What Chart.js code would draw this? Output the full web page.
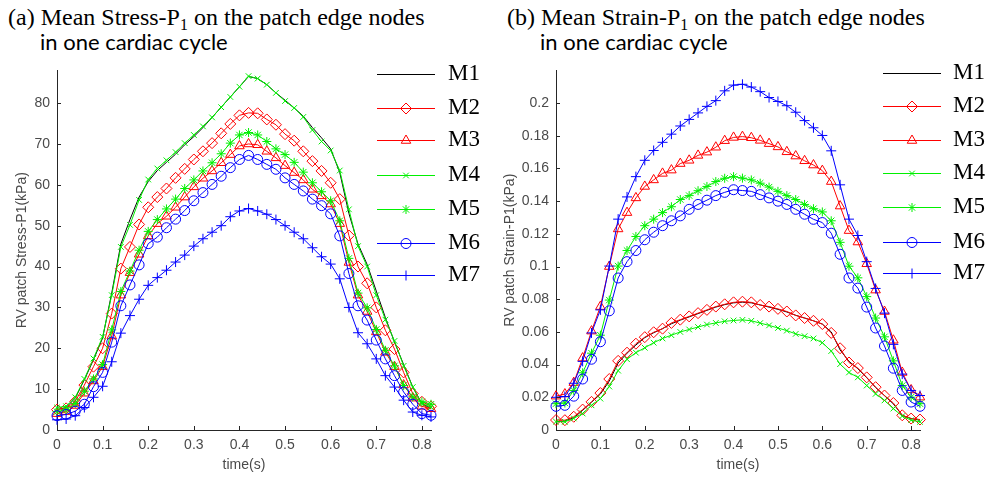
<!DOCTYPE html>
<html><head><meta charset="utf-8">
<script src="https://cdn.jsdelivr.net/npm/chart.js@4.4.1/dist/chart.umd.min.js"></script>
<style>
html,body{margin:0;padding:0;background:#fff;width:989px;height:478px;overflow:hidden;position:relative}
.t1{position:absolute;font-family:"Liberation Serif","Times New Roman",serif;font-size:24px;line-height:26px;color:#000;white-space:nowrap}
.t1 sub{font-size:0.66em;vertical-align:-0.3em;line-height:0}
.t2{position:absolute;font-family:Lato,"Open Sans",sans-serif;font-size:22px;line-height:26px;color:#000;white-space:nowrap}
canvas{position:absolute}
.lg{position:absolute;font-family:"Liberation Serif","Times New Roman",serif;font-size:23px;line-height:22px;color:#000;white-space:nowrap}
</style></head><body>
<div class="t1" style="left:8px;top:4px">(a) Mean Stress-P<sub>1</sub> on the patch edge nodes</div>
<div class="t2" style="left:40px;top:29px">in one cardiac cycle</div>
<div class="t1" style="left:507px;top:4px">(b) Mean Strain-P<sub>1</sub> on the patch edge nodes</div>
<div class="t2" style="left:540px;top:29px">in one cardiac cycle</div>
<canvas id="c1" width="490" height="423" style="left:0;top:55px;width:490px;height:423px"></canvas>
<canvas id="c2" width="499" height="423" style="left:490px;top:55px;width:499px;height:423px"></canvas>
<div id="lg1"></div><div id="lg2"></div>
<script>
// ---- data ----
const timeS = [0,0.02,0.04,0.06,0.08,0.1,0.12,0.14,0.16,0.18,0.2,0.22,0.24,0.26,0.28,0.3,0.32,0.34,0.36,0.38,0.4,0.42,0.44,0.46,0.48,0.5,0.52,0.54,0.56,0.58,0.6,0.62,0.64,0.66,0.68,0.7,0.72,0.74,0.76,0.78,0.8,0.82];
const seriesNames = ['M1','M2','M3','M4','M5','M6','M7'];

const stressM1 = [5,5.5,7.8,12.3,17.2,22.5,33.5,45.5,51.5,57,60.8,63.5,65.5,67.5,69.8,71.8,74,76.5,79,81.5,84,86.5,86,84.5,82.5,80.7,78.8,76.8,74,71.5,68.8,63,53,45.5,40.5,34,27.5,21.5,16,10.5,6.5,5.2];
const stressM2 = [5,5.3,7,11,15.5,20,28.5,39.5,44.8,50.3,54.5,57,59.1,61.7,63.9,66.2,68.2,70.2,72.6,74.9,77,77.6,77.5,76,74.7,72.4,70.8,68.2,65.8,63.4,60.5,56.5,47.6,40,35.9,30,24.4,19.8,14.1,8.9,6.9,5.8];
const stressM3 = [4,4.5,6,9,12,15.5,23,33,38.5,43,47.5,50.5,52.3,54.5,57,59.5,61.6,63.4,65.4,67.4,69.5,70,69.8,68.2,66.6,64.7,63,61.2,58.9,57.3,55.3,50.5,41,33,29,24,19,15.5,11,7.8,5.8,5.2];
const stressM4 = [5.5,5.8,8,12.5,17.5,22.8,33,44.8,50.2,56.3,61.3,64,66,68,70.2,72.2,74.3,76.5,79,81.5,84,86.6,86,84.5,82.5,80.5,78.8,76.6,73.4,70.6,68.4,63.5,54,45,40,33,27,21.8,15.7,10.5,6.5,5.6];
const stressM5 = [4.5,5,6.5,9.5,12.5,16,24.5,33.9,38.9,44,48.6,51.5,54.1,56.5,59.1,61.2,63.4,65.4,67.6,70.2,72.2,72.8,72.2,70.6,68.8,67.4,65.5,63.1,60.5,58.3,56.1,51.2,42,33.5,29.9,24.6,19.5,15.7,10.9,8.1,6.9,6.3];
const stressM6 = [3.5,3.8,4.6,6.3,10.6,14.1,21.5,30.4,35.5,40.4,45.6,47.2,49.5,51.6,53.7,56.1,58.1,60.1,62.1,64.2,66.2,67.2,66.2,65,63.8,61.7,60.1,58.5,56.5,54.9,52.9,47.5,38.3,30.4,26.9,22,17.4,13.3,9.3,6.3,4,3.6];
const stressM7 = [2.5,2.7,3.5,5.5,8,10.7,16.7,23.7,28,32,35.4,37.3,39.1,41.1,42.8,45,46.8,48.4,50,52.2,53.6,54.2,53.6,52.8,51.5,50,48.4,46.8,44.6,42.4,40.6,37,30,23.8,21.1,17.4,13.3,10.5,7.3,4.4,3.6,3.2];

const strainM1 = [0.005,0.0055,0.0075,0.012,0.017,0.022,0.030,0.041,0.047,0.052,0.0565,0.0595,0.062,0.065,0.0672,0.0692,0.0712,0.0732,0.0752,0.0767,0.0778,0.0782,0.0778,0.0765,0.0752,0.0738,0.0722,0.0702,0.0685,0.0668,0.0648,0.060,0.049,0.042,0.0375,0.032,0.026,0.021,0.016,0.009,0.007,0.006];
const strainM2 = [0.0061,0.006,0.0081,0.0125,0.0172,0.0226,0.0312,0.0423,0.0473,0.0528,0.0568,0.0598,0.062,0.0655,0.0675,0.0695,0.0715,0.0735,0.0755,0.0769,0.0781,0.0785,0.0781,0.0765,0.0755,0.0741,0.0725,0.0701,0.0685,0.0668,0.0648,0.0594,0.05,0.0413,0.0379,0.0322,0.0262,0.0211,0.0165,0.009,0.007,0.0064];
const strainM3 = [0.0207,0.022,0.029,0.044,0.0605,0.0755,0.1,0.123,0.133,0.142,0.149,0.153,0.157,0.159,0.163,0.165,0.168,0.17,0.173,0.177,0.179,0.1795,0.1788,0.1772,0.1752,0.1732,0.1702,0.1676,0.1647,0.1621,0.1587,0.152,0.137,0.122,0.115,0.1017,0.0856,0.0725,0.0549,0.0352,0.0245,0.0201];
const strainM4 = [0.0051,0.005,0.0071,0.0101,0.0151,0.0192,0.0266,0.0363,0.0433,0.0473,0.0503,0.0534,0.056,0.058,0.06,0.0615,0.063,0.0645,0.0655,0.0665,0.067,0.0674,0.0668,0.0654,0.064,0.0624,0.0608,0.0588,0.0574,0.056,0.0534,0.0483,0.0403,0.0352,0.0322,0.0272,0.0221,0.0181,0.0131,0.0085,0.006,0.005];
const strainM5 = [0.0161,0.0165,0.0242,0.035,0.047,0.058,0.0795,0.1003,0.1098,0.1184,0.125,0.129,0.133,0.1366,0.141,0.1434,0.1464,0.149,0.152,0.154,0.155,0.1541,0.153,0.151,0.1486,0.146,0.1434,0.141,0.138,0.1354,0.1334,0.128,0.1148,0.1002,0.0931,0.0816,0.0685,0.057,0.0423,0.0272,0.0201,0.0161];
const strainM6 = [0.0145,0.0151,0.0207,0.0312,0.0433,0.054,0.0729,0.093,0.103,0.1098,0.1164,0.121,0.125,0.128,0.131,0.135,0.138,0.1406,0.1434,0.1454,0.147,0.1465,0.146,0.144,0.142,0.14,0.138,0.135,0.132,0.1289,0.1269,0.1204,0.1075,0.093,0.0868,0.0752,0.0624,0.0514,0.0378,0.0242,0.0171,0.0145];
const strainM7 = [0.02,0.0205,0.0286,0.042,0.0594,0.0735,0.1003,0.129,0.1426,0.155,0.165,0.171,0.176,0.181,0.186,0.19,0.194,0.198,0.2015,0.2075,0.211,0.2115,0.2098,0.207,0.2034,0.201,0.1984,0.1944,0.1893,0.1849,0.1802,0.1708,0.15,0.129,0.119,0.103,0.0866,0.0715,0.0524,0.0342,0.0242,0.0211];

const xTicks = [0,0.1,0.2,0.3,0.4,0.5,0.6,0.7,0.8];
const stressTicks = [0,10,20,30,40,50,60,70,80];
const strainTicks = [0,0.02,0.04,0.06,0.08,0.1,0.12,0.14,0.16,0.18,0.2];

// ---- styles ----
const seriesColors = ['#000000','#ff0000','#ff0000','#00f000','#00f000','#0000ff','#0000ff'];
const seriesMarkers = [false,'rectRot','triangle','crossRot','star','circle','cross'];
const seriesRadii = [0,5.5,5.5,4,4.5,5,5];

function makeDatasets(seriesList){
  return seriesList.map((vals,i)=>({
    label: seriesNames[i],
    data: timeS.map((t,k)=>({x:t,y:vals[k]})),
    borderColor: seriesColors[i],
    pointBorderColor: seriesColors[i],
    backgroundColor: 'rgba(0,0,0,0)',
    pointBackgroundColor: 'rgba(0,0,0,0)',
    borderWidth: 1,
    pointBorderWidth: 1,
    pointStyle: seriesMarkers[i] || 'circle',
    pointRadius: seriesMarkers[i] ? seriesRadii[i] : 0,
    tension: 0,
    clip: false,
    order: 7 - i
  }));
}

const inTicks = {
  id:'inTicks',
  afterDatasetsDraw(chart){
    const {ctx, chartArea:a, scales:{x,y}} = chart;
    ctx.save(); ctx.strokeStyle='#262626'; ctx.lineWidth=1; ctx.beginPath();
    x.ticks.forEach(t=>{const px=Math.round(x.getPixelForValue(t.value))+0.5; ctx.moveTo(px,a.bottom); ctx.lineTo(px,a.bottom-4);});
    y.ticks.forEach(t=>{const py=Math.round(y.getPixelForValue(t.value))+0.5; ctx.moveTo(a.left,py); ctx.lineTo(a.left+4,py);});
    ctx.stroke(); ctx.restore();
  }
};

function legendPlugin(geom){
  return {
    id:'legendIcons',
    afterDraw(chart){
      const ctx = chart.ctx;
      chart.data.datasets.forEach((ds,i)=>{
        const y = geom.ys[i] + 0.5;
        ctx.save();
        ctx.strokeStyle = ds.borderColor; ctx.lineWidth = 1;
        ctx.beginPath(); ctx.moveTo(geom.x1,y); ctx.lineTo(geom.x2,y); ctx.stroke();
        if (ds.pointRadius>0 && Chart.helpers && Chart.helpers.drawPoint){
          ctx.fillStyle='rgba(0,0,0,0)'; ctx.strokeStyle=ds.pointBorderColor;
          Chart.helpers.drawPoint(ctx,{pointStyle:ds.pointStyle,rotation:0,radius:ds.pointRadius,borderWidth:1},(geom.x1+geom.x2)/2,y);
        }
        ctx.restore();
      });
    }
  };
}

const axisFont = {family:'"Liberation Sans", Arial, sans-serif', size:14};
const axisColor = '#4a4a4a';

function fmt(v){ return String(Math.round(v*1000)/1000); }

function makeChart(id, seriesList, yMax, yTicks, yTitle, yWidth, padRight, yTitlePad, geom){
  return new Chart(document.getElementById(id), {
    type:'line',
    data:{datasets: makeDatasets(seriesList)},
    options:{
      responsive:false, animation:false,
      layout:{padding:{left:0, top:12, right:padRight, bottom:0}},
      plugins:{legend:{display:false}, tooltip:{enabled:false}, title:{display:false}},
      scales:{
        x:{type:'linear', min:0, max:0.82,
           afterBuildTicks:s=>{s.ticks = xTicks.map(v=>({value:v}));},
           afterFit:s=>{s.height = 48;},
           grid:{display:false, drawTicks:false},
           border:{display:true, color:'#262626', width:1},
           ticks:{padding:7, color:axisColor, font:axisFont, callback:v=>fmt(v), maxRotation:0, autoSkip:false},
           title:{display:true, text:'time(s)', color:axisColor, font:axisFont, padding:{top:0,bottom:4.5}}},
        y:{type:'linear', min:0, max:yMax,
           afterBuildTicks:s=>{s.ticks = yTicks.map(v=>({value:v}));},
           afterFit:s=>{s.width = yWidth;},
           grid:{display:false, drawTicks:false},
           border:{display:true, color:'#262626', width:1},
           ticks:{padding:7, color:axisColor, font:axisFont, callback:v=>fmt(v), autoSkip:false},
           title:{display:true, text:yTitle, color:axisColor, font:axisFont, padding:{top:yTitlePad,bottom:0}}}
      }
    },
    plugins:[inTicks, legendPlugin(geom)]
  });
}

const legendYs1 = [74,108,140,175,209,243,275];
const legendYs2 = [73,106,140,173,207,242,273];

makeChart('c1', [stressM1,stressM2,stressM3,stressM4,stressM5,stressM6,stressM7], 88, stressTicks,
  'RV patch Stress-P1(kPa)', 57, 59, 13.3, {x1:377, x2:435, ys:legendYs1.map(v=>v-55)});
makeChart('c2', [strainM1,strainM2,strainM3,strainM4,strainM5,strainM6,strainM7], 0.22, strainTicks,
  'RV patch Strain-P1(kPa)', 66, 69, 11.6, {x1:883-490, x2:941-490, ys:legendYs2.map(v=>v-55)});

function makeLegendText(id, left, ys){
  const box = document.getElementById(id);
  seriesNames.forEach((n,i)=>{
    const d = document.createElement('div');
    d.className='lg'; d.textContent=n;
    d.style.left = left+'px'; d.style.top = (ys[i]-12)+'px';
    box.appendChild(d);
  });
}
makeLegendText('lg1', 448, legendYs1);
makeLegendText('lg2', 953, legendYs2);
</script>
</body></html>
